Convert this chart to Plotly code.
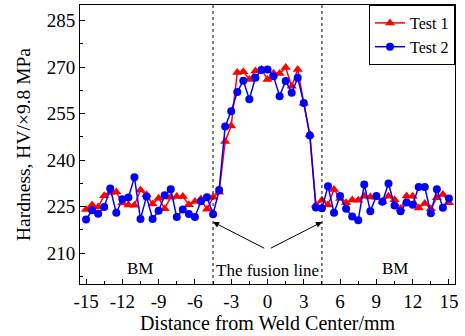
import plotly.graph_objects as go

x_mm = [-15 + 0.5 * i for i in range(61)]

test1 = [224.0, 225.5, 224.8, 228.5, 229.5, 229.7, 226.2, 225.5, 225.4, 230.3,
         228.8, 225.8, 227.7, 224.3, 228.0, 228.2, 228.2, 225.6, 226.6, 227.4,
         224.1, 228.0, 229.6, 246.0, 251.0, 268.2, 268.5, 266.0, 268.7, 269.3,
         266.0, 268.0, 267.9, 269.8, 263.8, 269.2, 258.3, 248.2, 225.5, 227.0,
         225.5, 230.5, 227.6, 226.2, 227.1, 227.0, 228.3, 228.1, 228.0, 226.6,
         228.3, 227.2, 224.3, 228.4, 228.3, 224.5, 226.0, 224.3, 227.8, 228.9,
         226.2]

test2 = [220.8, 223.8, 222.7, 224.8, 230.8, 223.0, 227.3, 227.9, 234.4, 221.0,
         228.2, 221.0, 223.6, 228.6, 230.6, 221.6, 224.0, 222.6, 221.6, 226.7,
         228.0, 222.5, 230.3, 250.8, 255.7, 261.9, 265.6, 259.6, 266.5, 269.0,
         269.2, 267.0, 260.6, 265.5, 261.7, 266.5, 258.4, 247.9, 224.7, 224.4,
         231.5, 223.0, 228.4, 224.3, 221.8, 220.6, 232.1, 223.5, 228.4, 226.5,
         232.4, 225.3, 223.5, 226.3, 225.6, 231.3, 231.3, 222.8, 230.6, 224.6,
         227.6]

x_ticks = [-15, -12, -9, -6, -3, 0, 3, 6, 9, 12, 15]
x_tick_labels = ["-15", "-12", "-9", "-6", "-3", "0", "3", "6", "9", "12", "15"]
y_ticks = [210, 225, 240, 255, 270, 285]
fusion_lines = [-4.5, 4.5]

FONT = "Liberation Serif"

fig = go.Figure()
fig.add_trace(go.Scatter(
    x=x_mm, y=test1, name="Test 1", mode="lines+markers",
    line=dict(color="#ff0000", width=1.5),
    marker=dict(symbol="triangle-up", size=9, color="#ff0000"),
))
fig.add_trace(go.Scatter(
    x=x_mm, y=test2, name="Test 2", mode="lines+markers",
    line=dict(color="#0000ff", width=1.5),
    marker=dict(symbol="circle", size=8, color="#0000ff"),
))

for xv in fusion_lines:
    fig.add_shape(type="line", xref="x", yref="paper", x0=xv, x1=xv, y0=0, y1=1,
                  line=dict(color="black", width=1, dash="dot"))

fig.add_annotation(x=-10.5, y=205, text="BM", showarrow=False,
                   font=dict(family=FONT, size=17, color="black"))
fig.add_annotation(x=10.5, y=205, text="BM", showarrow=False,
                   font=dict(family=FONT, size=17, color="black"))
fig.add_annotation(x=0, y=204.3, text="The fusion line", showarrow=False,
                   font=dict(family=FONT, size=17, color="black"))
for tip in fusion_lines:
    fig.add_annotation(x=tip, y=220, ax=-0.15 if tip < 0 else 0.15, ay=211.3,
                       xref="x", yref="y", axref="x", ayref="y",
                       text="", showarrow=True, arrowhead=2, arrowsize=1.2,
                       arrowwidth=1, arrowcolor="black")

axis_common = dict(
    showline=True, linecolor="black", linewidth=1, mirror=True,
    ticks="inside", ticklen=5, tickwidth=1, tickcolor="black",
    showgrid=False, zeroline=False,
    tickfont=dict(family=FONT, size=19, color="black"),
)

fig.update_xaxes(
    range=[-15.5, 15.5], tickvals=x_ticks, ticktext=x_tick_labels,
    title=dict(text="Distance from Weld Center/mm", standoff=2,
               font=dict(family=FONT, size=20, color="black")),
    minor=dict(ticks="inside", ticklen=3, tickcolor="black", dtick=1.5, tick0=-15),
    **axis_common,
)
fig.update_yaxes(
    range=[200, 290], tickvals=y_ticks,
    title=dict(text="Hardness, HV/×9.8 MPa", standoff=10,
               font=dict(family=FONT, size=19.5, color="black")),
    minor=dict(ticks="inside", ticklen=3, tickcolor="black", dtick=7.5, tick0=210),
    **axis_common,
)

fig.update_layout(
    width=465, height=336,
    margin=dict(l=80, r=10, t=5, b=52),
    paper_bgcolor="white", plot_bgcolor="white",
    font=dict(family=FONT, color="black"),
    legend=dict(x=1, y=1, xanchor="right", yanchor="top",
                bordercolor="black", borderwidth=1, bgcolor="white",
                font=dict(family=FONT, size=16, color="black"),
                tracegroupgap=0, itemwidth=30),
    showlegend=True,
)

fig.write_html("out.html")
